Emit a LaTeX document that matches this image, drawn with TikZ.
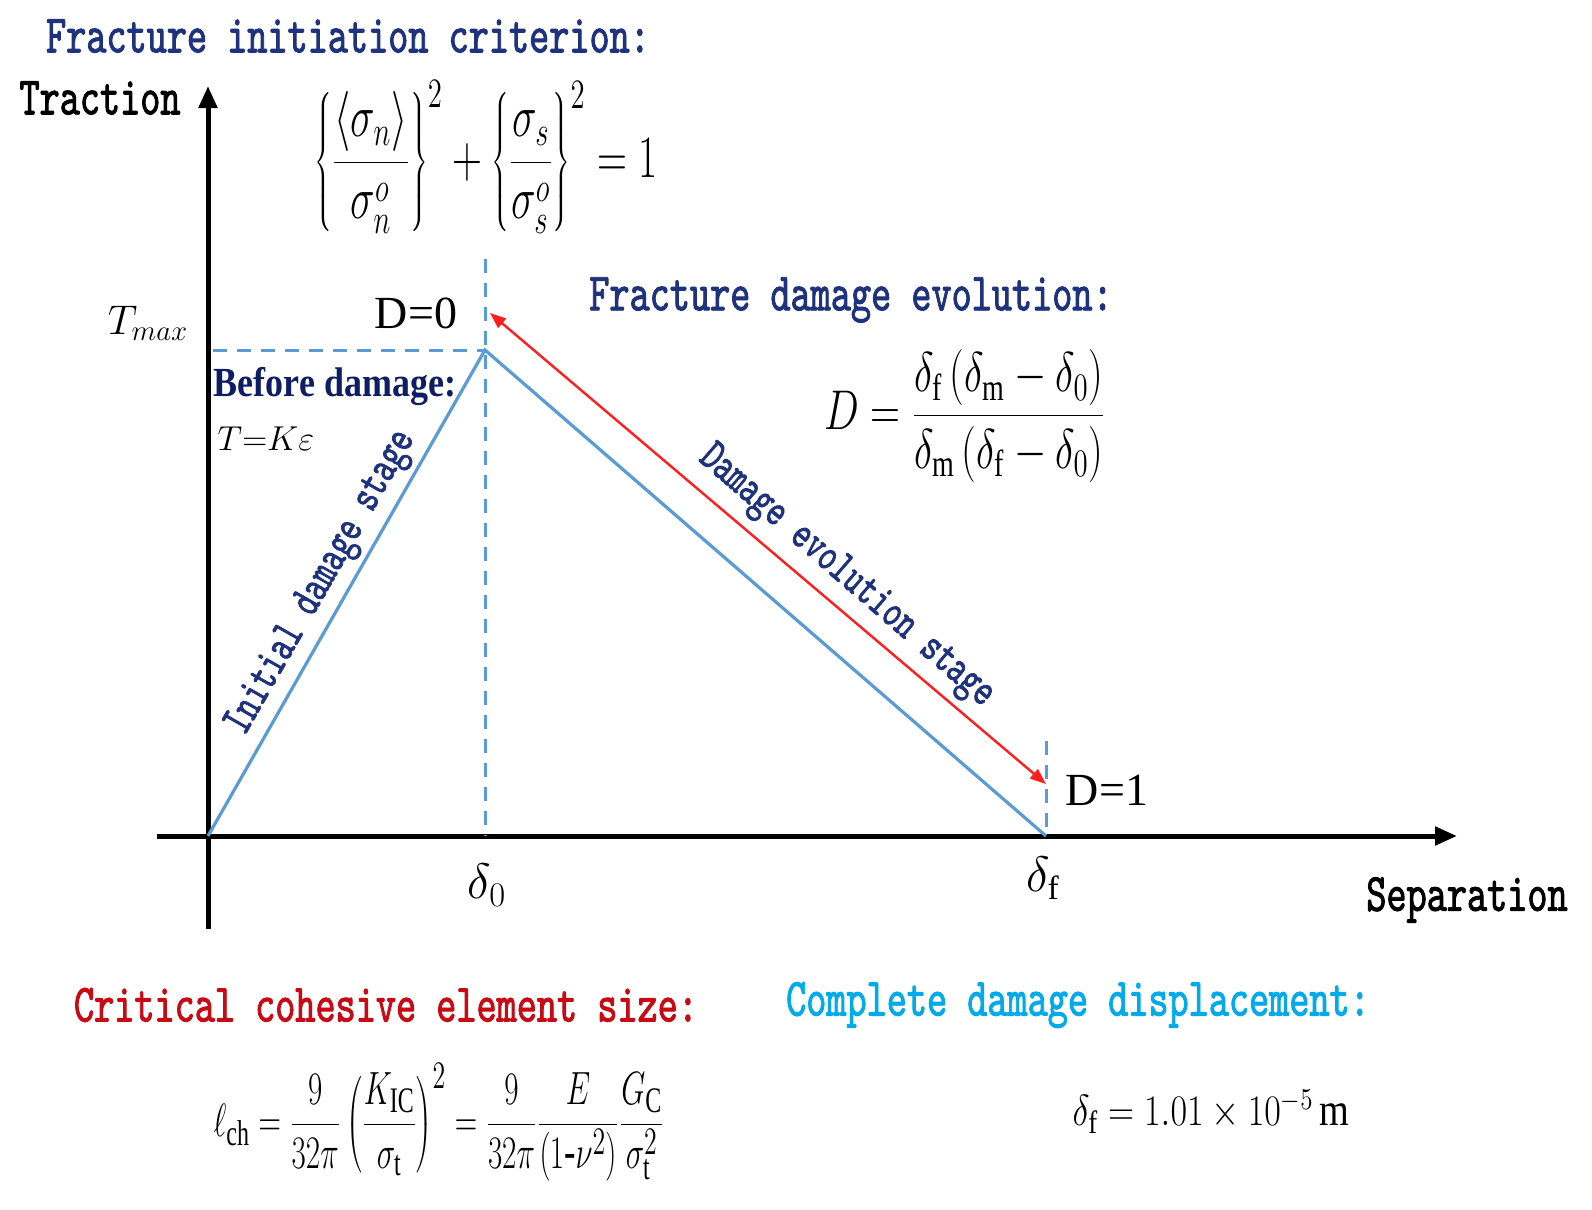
\documentclass[tikz,border=0pt]{standalone}
\usepackage{fontspec}
\setmainfont{Liberation Serif}
\newfontfamily\monof{lmmono10-regular.otf}[FakeStretch=0.71,FakeBold=1.6]
\usetikzlibrary{arrows.meta}
\definecolor{navy}{RGB}{30,50,125}
\definecolor{bdnavy}{RGB}{15,30,100}
\definecolor{linblue}{RGB}{91,155,213}
\definecolor{critred}{RGB}{200,10,20}
\definecolor{cyanT}{RGB}{0,170,235}
\definecolor{arrred}{RGB}{255,30,30}
\tikzset{
  head/.style={font=\monof\fontsize{27}{32}\selectfont, inner sep=0pt},
  rothead/.style={font=\monof\fontsize{23}{27}\selectfont, text=navy, inner sep=0pt},
  axisline/.style={line width=2.5pt, -{Triangle[length=11pt,width=9pt]}},
  curve/.style={linblue, line width=1.6pt},
  guide/.style={linblue, line width=1.5pt, dash pattern=on 7pt off 5pt},
  dbl/.style={arrred, line width=1.2pt, {Triangle[length=8pt,width=6pt]}-{Triangle[length=8pt,width=6pt]}},
  lbl/.style={inner sep=0pt}
}
\begin{document}
\begin{tikzpicture}[x=0.5pt,y=-0.5pt]
\fill[white] (0,0) rectangle (1592,1210);
\useasboundingbox (0,0) rectangle (1592,1210);
% key points
\coordinate (O) at (208,836);
\coordinate (P) at (485,350);
\coordinate (F) at (1046,836);
\coordinate (Yb) at (208,929);
\coordinate (Yt) at (208,86);
\coordinate (Xl) at (157,836);
\coordinate (Xr) at (1457,836);
\coordinate (P0top) at (485,259);
\coordinate (P0bot) at (485,836);
\coordinate (Ftop) at (1046,741);
\coordinate (Hl) at (213,350);
\coordinate (R1) at (490,313);
\coordinate (R2) at (1046,784);
% axes
\draw[axisline] (Yb) -- (Yt);
\draw[axisline] (Xl) -- (Xr);
% guides
\draw[guide] (P0top) -- (P0bot);
\draw[guide] (Hl) -- (P);
\draw[guide] (Ftop) -- (F);
% curve
\draw[curve] (O) -- (P) -- (F);
\draw[dbl] (R1) -- (R2);
% texts
\node[head, text=navy] (t1) at (348,36) {Fracture initiation criterion:};
\node[head] (trac) at (100,98) {Traction};
\node[lbl, font=\fontsize{22}{26}\selectfont] (crit) at (486,157)
  {\scalebox{1}[1.45]{$\displaystyle \left\{\frac{\langle\sigma_n\rangle}{\sigma_n^o}\right\}^2+\left\{\frac{\sigma_s}{\sigma_s^o}\right\}^2=1$}};
\node[lbl, font=\fontsize{22}{26}\selectfont] (tmax) at (148,323) {$T_{max}$};
\node[lbl, font=\fontsize{23}{27}\selectfont] (d0) at (416,313) {D=0};
\node[head, text=navy] (t2) at (851,300) {Fracture damage evolution:};
\node[lbl, font=\fontsize{20}{24}\selectfont] (dform) at (965,416)
  {\scalebox{1}[1.35]{$\displaystyle D=\frac{\delta_{\mathrm f}\left(\delta_{\mathrm m}-\delta_0\right)}{\delta_{\mathrm m}\left(\delta_{\mathrm f}-\delta_0\right)}$}};
\node[lbl, font=\bfseries\fontsize{18}{22}\selectfont, text=bdnavy] (bd) at (335,386) {\scalebox{1}[1.15]{Before damage:}};
\node[lbl, font=\fontsize{19}{22}\selectfont] (tk) at (266,439) {$T{=}K\varepsilon$};
\node[rothead, rotate=60.3] (ids) at (322,583) {Initial damage stage};
\node[rothead, rotate=-40.9] (des) at (846,577) {Damage evolution stage};
\node[lbl, font=\fontsize{24}{28}\selectfont] (dl0) at (487,885) {$\delta_0$};
\node[lbl, font=\fontsize{24}{28}\selectfont] (dlf) at (1043,878) {$\delta_{\mathrm f}$};
\node[head] (sep) at (1467,900) {Separation};
\node[lbl, font=\fontsize{23}{27}\selectfont] (d1) at (1107,790) {D=1};
\node[head, text=critred] (t3) at (386,1005) {Critical cohesive element size:};
\node[head, text=cyanT] (t4) at (1078,1005) {Complete damage displacement:};
\node[lbl, font=\fontsize{19}{22}\selectfont] (lch) at (439,1122)
  {\scalebox{0.9}[1.35]{$\displaystyle \ell_{\mathrm{ch}}=\frac{9}{32\pi}\left(\frac{K_{\mathrm{IC}}}{\sigma_{\mathrm t}}\right)^2=\frac{9}{32\pi}\frac{E}{\left(1\mbox{-}\nu^2\right)}\frac{G_{\mathrm C}}{\sigma_{\mathrm t}^2}$}};
\node[lbl, font=\fontsize{22}{26}\selectfont] (dfv) at (1211,1112)
  {\scalebox{0.87}[1.05]{$\delta_{\mathrm f}=1.01\times10^{-5}\,\mathrm{m}$}};
\end{tikzpicture}
\end{document}
